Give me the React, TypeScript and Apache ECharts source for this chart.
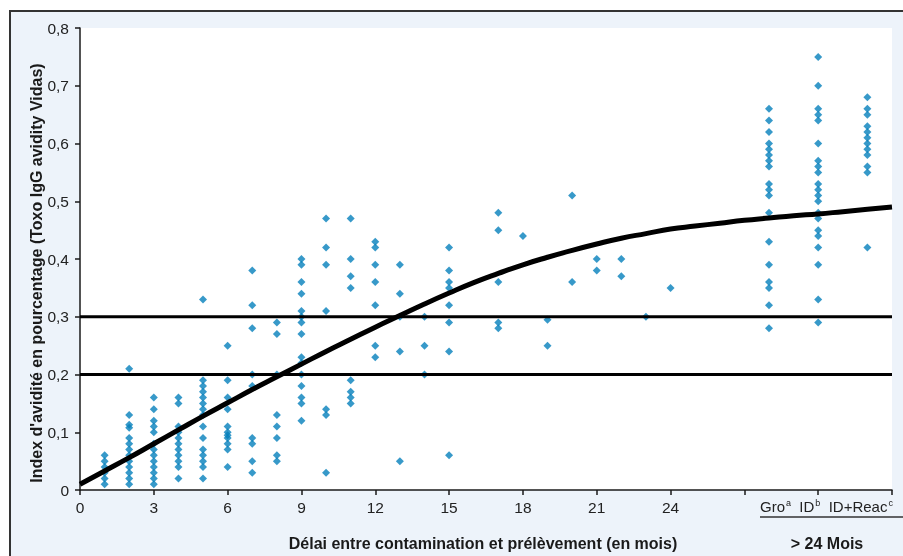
import React, { useEffect, useRef } from "react";
import * as echarts from "echarts";

// Months (x) of each column of measurements; 28, 30, 32 are the "> 24 mois" groups
const columnMonths = [1, 2, 3, 4, 5, 6, 7, 8, 9, 10, 11, 12, 13, 14, 15, 17, 18, 19, 20, 21, 22, 23, 24, 28, 30, 32];

const month1 = [0.01, 0.02, 0.03, 0.04, 0.05, 0.06];
const month2 = [0.01, 0.02, 0.03, 0.04, 0.05, 0.06, 0.07, 0.08, 0.09, 0.108, 0.113, 0.13, 0.21];
const month3 = [0.01, 0.02, 0.03, 0.04, 0.05, 0.06, 0.07, 0.08, 0.10, 0.11, 0.12, 0.14, 0.16];
const month4 = [0.02, 0.04, 0.05, 0.06, 0.07, 0.08, 0.09, 0.10, 0.11, 0.15, 0.16];
const month5 = [0.02, 0.04, 0.05, 0.06, 0.07, 0.09, 0.11, 0.13, 0.14, 0.15, 0.16, 0.17, 0.18, 0.19, 0.33];
const month6 = [0.04, 0.07, 0.08, 0.09, 0.095, 0.10, 0.11, 0.14, 0.16, 0.19, 0.25];
const month7 = [0.03, 0.05, 0.08, 0.09, 0.18, 0.20, 0.28, 0.32, 0.38];
const month8 = [0.05, 0.06, 0.09, 0.11, 0.13, 0.20, 0.27, 0.29];
const month9 = [0.12, 0.15, 0.16, 0.18, 0.20, 0.22, 0.23, 0.27, 0.29, 0.30, 0.31, 0.34, 0.36, 0.39, 0.40];
const month10 = [0.03, 0.13, 0.14, 0.31, 0.39, 0.42, 0.47];
const month11 = [0.15, 0.16, 0.17, 0.19, 0.35, 0.37, 0.40, 0.47];
const month12 = [0.23, 0.25, 0.32, 0.36, 0.39, 0.42, 0.43];
const month13 = [0.05, 0.24, 0.30, 0.34, 0.39];
const month14 = [0.20, 0.25, 0.30];
const month15 = [0.06, 0.24, 0.29, 0.32, 0.35, 0.36, 0.38, 0.42];
const month17 = [0.28, 0.29, 0.36, 0.45, 0.48];
const month18 = [0.44];
const month19 = [0.25, 0.295];
const month20 = [0.36, 0.51];
const month21 = [0.38, 0.40];
const month22 = [0.37, 0.40];
const month23 = [0.30];
const month24 = [0.35];
const groupGro = [0.28, 0.32, 0.35, 0.36, 0.39, 0.43, 0.48, 0.51, 0.52, 0.53, 0.56, 0.57, 0.58, 0.59, 0.60, 0.62, 0.64, 0.66];
const groupID = [0.29, 0.33, 0.39, 0.42, 0.44, 0.45, 0.47, 0.48, 0.50, 0.51, 0.52, 0.53, 0.55, 0.56, 0.57, 0.60, 0.64, 0.65, 0.66, 0.70, 0.75];
const groupIDReac = [0.42, 0.55, 0.56, 0.58, 0.59, 0.60, 0.61, 0.62, 0.63, 0.65, 0.66, 0.68];

const columnValues = [
  month1, month2, month3, month4, month5, month6, month7, month8, month9, month10,
  month11, month12, month13, month14, month15, month17, month18, month19, month20,
  month21, month22, month23, month24, groupGro, groupID, groupIDReac,
];

// Fitted curve
const curveMonths = [0, 1, 2, 3, 4, 5, 6, 7, 8, 9, 10, 11, 12, 13, 14, 15, 16, 17, 18, 19, 20, 21, 22, 23, 24, 25, 26, 27, 28, 29, 30, 31, 32, 33];
const curveValues = [0.01, 0.033, 0.056, 0.08, 0.104, 0.128, 0.151, 0.174, 0.196, 0.218, 0.24, 0.261, 0.282, 0.302, 0.322, 0.341, 0.359, 0.375, 0.39, 0.403, 0.415, 0.426, 0.436, 0.444, 0.452, 0.457, 0.462, 0.467, 0.471, 0.475, 0.478, 0.482, 0.486, 0.49];

// Threshold lines
const thresholds = [0.2, 0.3];

// Axis
const xTickLabelMax = 24;
const groupLabels = ["Gro", "ID", "ID+Reac"];
const groupSup = ["a", "b", "c"];

const FONT = "'Liberation Sans', Arial, Helvetica, sans-serif";

export default function App() {
  const ref = useRef<HTMLDivElement>(null);

  useEffect(() => {
    if (!ref.current) return;
    const chart = echarts.init(ref.current, undefined, { renderer: "svg" });

    const scatterData: number[][] = [];
    columnMonths.forEach((m, i) => {
      columnValues[i].forEach((v) => scatterData.push([m, v]));
    });
    const curveData = curveMonths.map((m, i) => [m, curveValues[i]]);

    const groupRich = groupLabels
      .map((g, i) => `{n|${g}}{s|${groupSup[i]}}`)
      .join("{n|  }");

    const option: any = {
      animation: false,
      backgroundColor: "transparent",
      textStyle: { fontFamily: FONT },
      grid: {
        left: 80,
        top: 28,
        right: 11,
        bottom: 66,
        show: true,
        backgroundColor: "#ffffff",
        borderWidth: 0,
        containLabel: false,
      },
      xAxis: {
        type: "value",
        min: 0,
        max: 33,
        interval: 3,
        axisLine: { show: true, onZero: false, lineStyle: { color: "#1a1a1a", width: 1.5 } },
        axisTick: { show: true, inside: false, length: 5, lineStyle: { color: "#1a1a1a", width: 1.5 } },
        axisLabel: {
          fontSize: 15.5,
          color: "#222",
          fontFamily: FONT,
          margin: 9,
          formatter: (v: number) => (v <= xTickLabelMax ? String(v) : ""),
        },
        splitLine: { show: false },
      },
      yAxis: {
        type: "value",
        min: 0,
        max: 0.8,
        interval: 0.1,
        axisLine: { show: true, lineStyle: { color: "#1a1a1a", width: 1.5 } },
        axisTick: { show: true, inside: false, length: 5, lineStyle: { color: "#1a1a1a", width: 1.5 } },
        axisLabel: {
          fontSize: 15.5,
          color: "#222",
          fontFamily: FONT,
          margin: 11,
          formatter: (v: number) => (v === 0 ? "0" : (Math.round(v * 10) / 10).toString().replace(".", ",")),
        },
        splitLine: { show: false },
      },
      graphic: [
        {
          type: "rect",
          z: -10,
          silent: true,
          shape: { x: 10, y: 11, width: 1000, height: 1000 },
          style: { fill: "#edf3fa", stroke: "#333333", lineWidth: 2 },
        },
        {
          type: "text",
          x: 36,
          y: 273,
          rotation: Math.PI / 2,
          style: {
            text: "Index d'avidité en pourcentage (Toxo IgG avidity Vidas)",
            font: `bold 16px ${FONT}`,
            fill: "#1a1a1a",
            align: "center",
            verticalAlign: "middle",
          },
        },
        {
          type: "text",
          x: 483,
          y: 543,
          style: {
            text: "Délai entre contamination et prélèvement (en mois)",
            font: `bold 16px ${FONT}`,
            fill: "#1a1a1a",
            align: "center",
            verticalAlign: "middle",
          },
        },
        {
          type: "text",
          x: 827,
          y: 543,
          style: {
            text: "> 24 Mois",
            font: `bold 16px ${FONT}`,
            fill: "#1a1a1a",
            align: "center",
            verticalAlign: "middle",
          },
        },
        {
          type: "text",
          x: 760,
          y: 506,
          style: {
            text: groupRich,
            align: "left",
            verticalAlign: "middle",
            rich: {
              n: { fontSize: 15, fontFamily: FONT, fill: "#222", color: "#222" },
              s: { fontSize: 9, fontFamily: FONT, fill: "#222", color: "#222", verticalAlign: "top", padding: [0, 0, 5, 1] },
            },
          },
        },
        {
          type: "line",
          shape: { x1: 760, y1: 517, x2: 903, y2: 517 },
          style: { stroke: "#333", lineWidth: 1.5 },
        },
      ],
      series: [
        {
          type: "scatter",
          data: scatterData,
          symbol: "diamond",
          symbolSize: 8,
          itemStyle: { color: "#0580bb" },
          z: 2,
        },
        ...thresholds.map((t) => ({
          type: "line",
          data: [
            [0, t],
            [33, t],
          ],
          symbol: "none",
          lineStyle: { color: "#000", width: 3.2 },
          z: 3,
          silent: true,
        })),
        {
          type: "line",
          data: curveData,
          smooth: true,
          symbol: "none",
          lineStyle: { color: "#000", width: 5 },
          z: 4,
          silent: true,
        },
      ],
    };

    chart.setOption(option);
    return () => chart.dispose();
  }, []);

  return (
    <div
      ref={ref}
      style={{ position: "fixed", left: 0, top: 0, width: 903, height: 556 }}
    />
  );
}
